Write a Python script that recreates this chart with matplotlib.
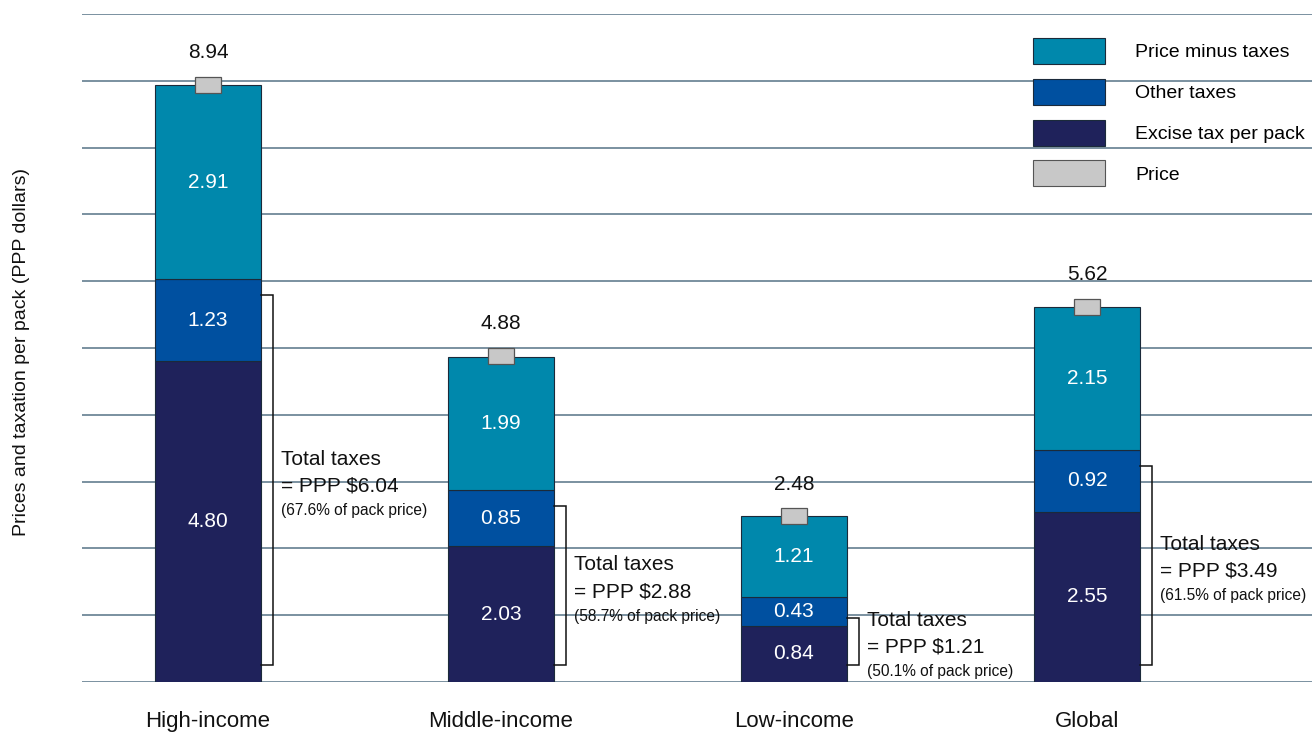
import matplotlib.pyplot as plt
from matplotlib.patches import Patch

# -- Data ---------------------------------------------------------------------
groups = ["High-income", "Middle-income", "Low-income", "Global"]
excise = [4.80, 2.03, 0.84, 2.55]
other_taxes = [1.23, 0.85, 0.43, 0.92]
price_minus_taxes = [2.91, 1.99, 1.21, 2.15]
price = [8.94, 4.88, 2.48, 5.62]
total_taxes = [6.04, 2.88, 1.21, 3.49]
tax_share = [67.6, 58.7, 50.1, 61.5]

# -- Style --------------------------------------------------------------------
plt.rcParams["font.family"] = ["Liberation Sans", "DejaVu Sans"]

C_PMT = "#0088AC"
C_OTHER = "#0050A0"
C_EXCISE = "#1F225B"
C_PRICE = "#C8C8C8"
C_GRID = "#6F8899"
C_EDGE = "#1B2A3A"
C_TEXT = "#111111"

fig = plt.figure(figsize=(13.12, 7.33), dpi=100)
ax = fig.add_axes([82 / 1312, 51 / 733, 1 - 82 / 1312, 668 / 733])

x = list(range(len(groups)))
w = 0.362

bot2 = [a + b for a, b in zip(excise, other_taxes)]
ax.bar(x, excise, w, color=C_EXCISE, edgecolor=C_EDGE, linewidth=0.8, zorder=3)
ax.bar(x, other_taxes, w, bottom=excise, color=C_OTHER, edgecolor=C_EDGE, linewidth=0.8, zorder=3)
ax.bar(x, price_minus_taxes, w, bottom=bot2, color=C_PMT, edgecolor=C_EDGE, linewidth=0.8, zorder=3)

# price marker sitting on the top edge of each bar
ax.bar(x, 0.24, 0.089, bottom=[p - 0.12 for p in price], color=C_PRICE,
       edgecolor="#555555", linewidth=0.9, zorder=4)

for i in x:
    ax.text(i, excise[i] / 2, f"{excise[i]:.2f}", ha="center", va="center",
            color="white", fontsize=15, zorder=5)
    ax.text(i, excise[i] + other_taxes[i] / 2, f"{other_taxes[i]:.2f}", ha="center",
            va="center", color="white", fontsize=15, zorder=5)
    ax.text(i, bot2[i] + price_minus_taxes[i] / 2, f"{price_minus_taxes[i]:.2f}",
            ha="center", va="center", color="white", fontsize=15, zorder=5)
    ax.text(i, price[i] + 0.40, f"{price[i]:.2f}", ha="center", va="baseline",
            color=C_TEXT, fontsize=15, zorder=5)

    # bracket for total taxes
    right = i + w / 2
    bx = right + 0.041
    top = total_taxes[i] - 0.25
    bottom = 0.25
    ax.plot([right, bx, bx, right], [top, top, bottom, bottom], color=C_TEXT,
            lw=1.1, zorder=5, solid_joinstyle="miter")
    mid = (top + bottom) / 2
    tx = right + 0.068
    ax.text(tx, mid + 0.23, "Total taxes", ha="left", va="baseline", fontsize=15, color=C_TEXT)
    ax.text(tx, mid - 0.17, f"= PPP ${total_taxes[i]:.2f}", ha="left", va="baseline",
            fontsize=15, color=C_TEXT)
    ax.text(tx, mid - 0.52, f"({tax_share[i]:.1f}% of pack price)", ha="left",
            va="baseline", fontsize=11.2, color=C_TEXT)

ax.set_xlim(-0.43, 3.768)
ax.set_ylim(0, 10)
ax.set_yticks(range(0, 11))
ax.yaxis.grid(True, color=C_GRID, lw=1.3)
ax.set_axisbelow(True)
ax.tick_params(axis="y", length=0, labelleft=False)
ax.set_xticks(x)
ax.set_xticklabels(groups, fontsize=16, color=C_TEXT)
ax.tick_params(axis="x", length=0, pad=21)
for s in ax.spines.values():
    s.set_visible(False)

fig.text(22 / 1312, 1 - 352 / 733, "Prices and taxation per pack (PPP dollars)",
         rotation=90, ha="center", va="center", fontsize=14, color=C_TEXT)

handles = [
    Patch(facecolor=C_PMT, edgecolor=C_EDGE, lw=0.8, label="Price minus taxes"),
    Patch(facecolor=C_OTHER, edgecolor=C_EDGE, lw=0.8, label="Other taxes"),
    Patch(facecolor=C_EXCISE, edgecolor=C_EDGE, lw=0.8, label="Excise tax per pack"),
    Patch(facecolor=C_PRICE, edgecolor="#555555", lw=0.8, label="Price"),
]
ax.legend(handles=handles, loc="upper left", bbox_to_anchor=(1033 / 1312, 1 - 38 / 733),
          bbox_transform=fig.transFigure, frameon=False, fontsize=14,
          handlelength=3.7, handleheight=1.68, labelspacing=0.76,
          handletextpad=1.54, borderpad=0, borderaxespad=0)

fig.savefig("out.png", dpi=100)
